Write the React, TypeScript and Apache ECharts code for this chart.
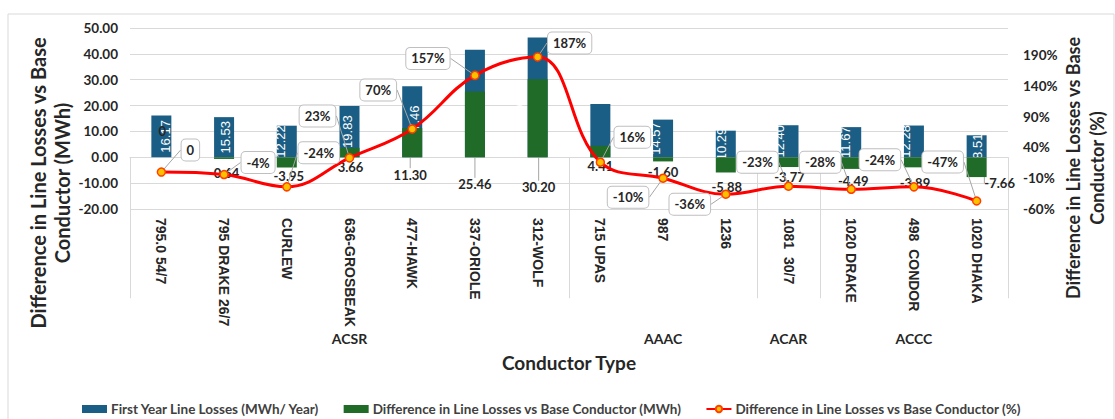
import React, { useEffect, useRef } from "react";
import * as echarts from "echarts";

const categories = [
  "795.0 54/7",
  "795 DRAKE 26/7",
  "CURLEW",
  "636-GROSBEAK",
  "477-HAWK",
  "337-ORIOLE",
  "312-WOLF",
  "715 UPAS",
  "987",
  "1236",
  "1081  30/7",
  "1020 DRAKE",
  "498  CONDOR",
  "1020 DHAKA",
];
const groupNames = ["ACSR", "AAAC", "ACAR", "ACCC"];
const groupSizes = [7, 3, 1, 3];

const firstYearLosses = [16.17, 15.53, 12.22, 19.83, 27.46, 41.63, 46.36, 20.58, 14.57, 10.29, 12.4, 11.67, 12.28, 8.51];
const diffMWh = [0, -0.64, -3.95, 3.66, 11.3, 25.46, 30.2, 4.41, -1.6, -5.88, -3.77, -4.49, -3.89, -7.66];
const diffPct = [0, -4, -24, 23, 70, 157, 187, 16, -10, -36, -23, -28, -24, -47];

const leftTicks = { min: -20, max: 50, interval: 10 };
const rightTicks = { min: -60, max: 234, interval: 50 };

// label placement (layout only)
const pctLabelOffsets = [
  [29, -22], [34, -12], [32, -34], [-32, -42], [-34, -39], [-47, -17], [32, -14],
  [32, -25], [-35, 19], [-36, 10], [-31, -24], [-31, -27], [-34, -27], [-34, -39],
];
const diffLabelOffsets = [
  [1, -26], [0, 15], [2, 14], [1, 14], [-2, 32], [0, 60], [1, 69],
  [0, 14], [0, 13], [1, 22], [1, 15], [2, 18], [1, 21], [23, 16],
];
const diffLabelLeader = [false, false, false, false, true, true, true, false, false, false, false, false, false, true];
const lossLabelDy = [4, 1, -6, -2, 2, -22, -18, -18, -8, -4, -9, -6, -8, 1];

const BLUE = "#1b5e85";
const GREEN = "#1f6b27";
const RED = "#ff0000";
const TXT = "#262626";
const GRID = "#d9d9d9";
const SANS = "Lato, sans-serif";
const ARIAL = "'Liberation Sans', Arial, sans-serif";

export default function App() {
  const ref = useRef<HTMLDivElement>(null);
  useEffect(() => {
    if (!ref.current) return;
    const chart = echarts.init(ref.current, null, { renderer: "svg" });

    // group boundaries and group label positions
    const boundaries: number[] = [];
    const groupAxisData: string[] = categories.map(() => "");
    let start = 0;
    groupNames.forEach((g, i) => {
      boundaries.push(start);
      groupAxisData[start + Math.floor((groupSizes[i] - 1) / 2)] = g;
      start += groupSizes[i];
    });

    const option: any = {
      animation: false,
      backgroundColor: "#ffffff",
      textStyle: { fontFamily: SANS },
      grid: { left: 130, right: 107, top: 28, bottom: 210, containLabel: false },
      legend: {
        left: 77,
        top: 397,
        itemGap: 24,
        itemWidth: 25,
        itemHeight: 8,
        textStyle: { fontFamily: SANS, fontSize: 13.5, fontWeight: "bold", color: "#404040", padding: [0, 0, 0, -1] },
        data: [
          { name: "First Year Line Losses (MWh/ Year)", icon: "rect" },
          { name: "Difference in Line Losses vs Base Conductor (MWh)", icon: "rect" },
          { name: "Difference in Line Losses vs Base Conductor (%)" },
        ],
      },
      xAxis: [
        {
          type: "category",
          data: categories,
          position: "bottom",
          axisLine: { lineStyle: { color: GRID } },
          axisTick: {
            show: true,
            length: 141,
            interval: (index: number) => boundaries.includes(index),
            lineStyle: { color: GRID },
          },
          axisLabel: {
            rotate: -90,
            interval: 0,
            margin: 9,
            fontWeight: "bold",
            fontSize: 14,
            color: TXT,
            fontFamily: ARIAL,
          },
          splitLine: { show: false },
        },
        {
          type: "category",
          data: groupAxisData,
          position: "bottom",
          offset: 114,
          axisLine: { show: false },
          axisTick: { show: false },
          axisLabel: {
            interval: 0,
            margin: 8,
            fontWeight: "bold",
            fontSize: 14,
            color: TXT,
            fontFamily: SANS,
          },
          name: "Conductor Type",
          nameLocation: "middle",
          nameGap: 30,
          nameTextStyle: { fontSize: 19, fontWeight: "bold", color: TXT, fontFamily: SANS },
        },
      ],
      yAxis: [
        {
          type: "value",
          min: leftTicks.min,
          max: leftTicks.max,
          interval: leftTicks.interval,
          axisLine: { show: false },
          axisTick: { show: false },
          axisLabel: {
            formatter: (v: number) => v.toFixed(2),
            fontWeight: "bold",
            fontSize: 13.5,
            color: TXT,
            margin: 12,
          },
          splitLine: { lineStyle: { color: GRID } },
        },
        {
          type: "value",
          min: rightTicks.min,
          max: rightTicks.max,
          interval: rightTicks.interval,
          axisLine: { show: false },
          axisTick: { show: false },
          axisLabel: {
            formatter: (v: number) => v + "%",
            fontWeight: "bold",
            fontSize: 13.5,
            color: TXT,
            margin: 15,
            showMaxLabel: false,
          },
          splitLine: { show: false },
        },
      ],
      series: [
        {
          name: "First Year Line Losses (MWh/ Year)",
          type: "bar",
          yAxisIndex: 0,
          barWidth: 20,
          z: 2,
          data: firstYearLosses,
          itemStyle: { color: BLUE },
          label: {
            show: true,
            position: "inside",
            rotate: 90,
            color: "#ffffff",
            fontSize: 13,
            fontFamily: ARIAL,
            formatter: (p: any) => Number(p.value).toFixed(2),
          },
          labelLayout: (p: any) => ({ dy: lossLabelDy[p.dataIndex] }),
        },
        {
          name: "Difference in Line Losses vs Base Conductor (MWh)",
          type: "bar",
          yAxisIndex: 0,
          barWidth: 20,
          barGap: "-100%",
          z: 3,
          data: diffMWh.map((v, i) => ({ value: v, labelLine: { show: diffLabelLeader[i] } })),
          itemStyle: { color: GREEN },
          label: {
            show: true,
            position: "inside",
            color: TXT,
            fontSize: 13,
            fontWeight: "bold",
            formatter: (p: any) => (p.value === 0 ? "0" : Number(p.value).toFixed(2)),
          },
          labelLine: { lineStyle: { color: "#a6a6a6", width: 1 } },
          labelLayout: (p: any) => ({
            dx: diffLabelOffsets[p.dataIndex][0],
            dy: diffLabelOffsets[p.dataIndex][1],
          }),
        },
        {
          name: "Difference in Line Losses vs Base Conductor (%)",
          type: "line",
          yAxisIndex: 1,
          smooth: 0.4,
          z: 4,
          data: diffPct,
          symbol: "circle",
          symbolSize: 8,
          lineStyle: { color: RED, width: 3 },
          itemStyle: { color: "#ffc000", borderColor: "#ff4000", borderWidth: 1.5 },
          label: {
            show: true,
            position: "inside",
            formatter: (p: any) => (p.value === 0 ? "0" : p.value + "%"),
            fontSize: 13,
            fontWeight: "bold",
            color: TXT,
            backgroundColor: "#ffffff",
            borderColor: "#bfbfbf",
            borderWidth: 1,
            borderRadius: 4,
            padding: [4, 5],
          },
          labelLine: { show: true, lineStyle: { color: "#a6a6a6", width: 1 } },
          labelLayout: (p: any) => ({
            dx: pctLabelOffsets[p.dataIndex][0],
            dy: pctLabelOffsets[p.dataIndex][1],
          }),
        },
      ],
      graphic: [
        {
          type: "rect",
          z: -10,
          shape: { x: 8, y: 14, width: 1106, height: 420 },
          style: { fill: "none", stroke: GRID, lineWidth: 1 },
          silent: true,
        },
        {
          type: "text",
          x: 50,
          y: 183,
          rotation: Math.PI / 2,
          style: {
            text: "Difference in Line Losses vs Base\nConductor (MWh)",
            fontSize: 20,
            fontWeight: "bold",
            fontFamily: SANS,
            fill: TXT,
            align: "center",
            verticalAlign: "middle",
            lineHeight: 24,
          },
        },
        {
          type: "text",
          x: 1085,
          y: 168,
          rotation: Math.PI / 2,
          style: {
            text: "Difference in Line Losses vs Base\nConductor (%)",
            fontSize: 18,
            fontWeight: "bold",
            fontFamily: SANS,
            fill: TXT,
            align: "center",
            verticalAlign: "middle",
            lineHeight: 24,
          },
        },
      ],
    };
    chart.setOption(option);
    return () => chart.dispose();
  }, []);
  return (
    <div
      ref={ref}
      style={{ position: "fixed", left: 0, top: 0, width: 1115, height: 419, background: "#fff" }}
    />
  );
}
